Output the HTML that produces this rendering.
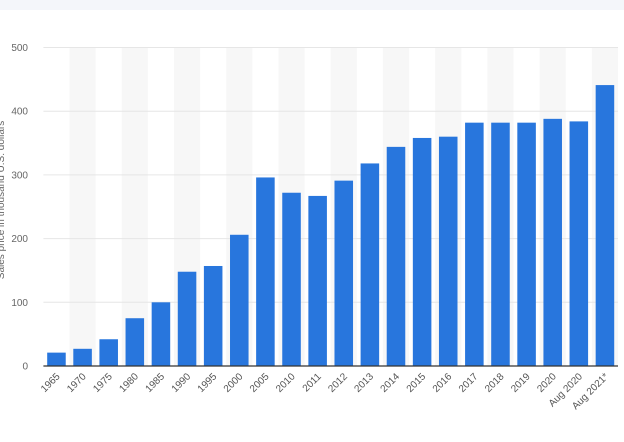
<!DOCTYPE html>
<html><head><meta charset="utf-8"><style>
body{margin:0;background:#fff;width:624px;height:437px;overflow:hidden;font-family:"Liberation Sans",sans-serif}
</style></head><body>
<svg id="chart" width="624" height="437" xmlns="http://www.w3.org/2000/svg">
<rect x="0" y="0" width="624" height="10" fill="#f4f6fa"/>
<text transform="translate(4,200) rotate(-90)" text-anchor="middle" font-size="10" fill="#666">Sales price in thousand U.S. dollars</text>
</svg>
<script>
const categories=["1965","1970","1975","1980","1985","1990","1995","2000","2005","2010","2011","2012","2013","2014","2015","2016","2017","2018","2019","2020","Aug 2020","Aug 2021*"];
const values=[21,27,42,75,100,148,157,206,296,272,267,291,318,344,358,360,382,382,382,388,384,441];
const yTicks=[0,100,200,300,400,500];
const svg=document.getElementById('chart');
const NS='http://www.w3.org/2000/svg';
const x0=43.4,x1=618,y0=366,y1=47.5,yMax=500;
const band=(x1-x0)/categories.length;
const xPos=i=>x0+i*band;
const yPos=v=>y0-(v/yMax)*(y0-y1);
function mk(t,a){const e=document.createElementNS(NS,t);for(const k in a)e.setAttribute(k,a[k]);svg.appendChild(e);return e;}
categories.forEach((c,i)=>{if(i%2===1){const r=mk('rect',{x:xPos(i),y:y1,width:band,height:y0-y1,fill:'#f7f7f7'});

}});
yTicks.forEach(t=>{const l=mk('line',{x1:x0,x2:x1,y1:yPos(t),y2:yPos(t),stroke:'#e6e6e6','stroke-width':1});


const tx=mk('text',{x:28,y:yPos(t)+3.5,'text-anchor':'end','font-size':10,fill:'#666'});


tx.textContent=t;});
values.forEach((v,i)=>{const w=band*0.71;const r=mk('rect',{x:xPos(i)+(band-w)/2,y:yPos(v),width:w,height:y0-yPos(v),fill:'#2876dd'});

});
const ax=mk('line',{x1:x0,x2:x1,y1:y0,y2:y0,stroke:'#333','stroke-width':1.2});


categories.forEach((c,i)=>{const cx=xPos(i)+band/2+4;const tx=mk('text',{x:cx,y:377,'text-anchor':'end','font-size':10,fill:'#555',transform:`rotate(-45 ${cx} 377)`});


tx.textContent=c;});
</script>
</body></html>
